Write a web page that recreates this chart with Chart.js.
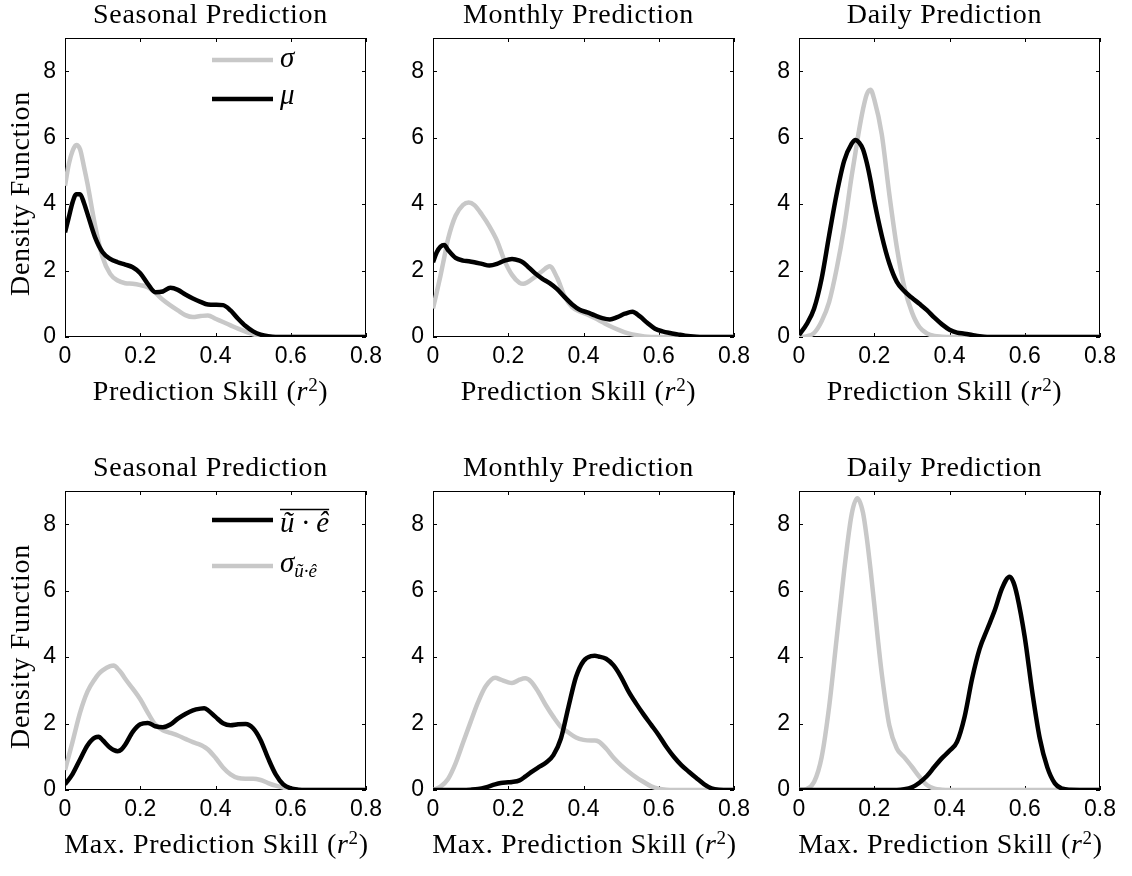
<!DOCTYPE html>
<html>
<head>
<meta charset="utf-8">
<title>Prediction skill densities</title>
<script src="https://cdn.jsdelivr.net/npm/chart.js@4.4.1/dist/chart.umd.min.js"></script>
<style>
  html, body { margin: 0; padding: 0; background: #fff; }
  #figure { position: relative; width: 1132px; height: 876px; overflow: hidden; }
  #figure canvas { position: absolute; }
</style>
</head>
<body>
<div id="figure"></div>
<script>
// Axis ticks shared by all six panels
const skillTicks = [0, 0.2, 0.4, 0.6, 0.8];
const densityTicks = [0, 2, 4, 6, 8];

// Top row: density of sigma and mu of the prediction skill
const seasonalSkill = [0, 0.01, 0.02, 0.03, 0.04, 0.05, 0.06, 0.08, 0.10, 0.12, 0.14, 0.16, 0.18, 0.20, 0.22, 0.24, 0.26, 0.28, 0.30, 0.32, 0.34, 0.36, 0.38, 0.40, 0.42, 0.44, 0.46, 0.48, 0.50, 0.52, 0.54, 0.56, 0.60, 0.70, 0.80];
const seasonalSigma = [4.55, 5.2, 5.6, 5.78, 5.65, 5.15, 4.6, 3.35, 2.4, 1.9, 1.7, 1.62, 1.6, 1.56, 1.5, 1.33, 1.12, 0.95, 0.8, 0.66, 0.6, 0.63, 0.65, 0.55, 0.45, 0.35, 0.25, 0.16, 0.08, 0.03, 0.01, 0, 0, 0, 0];
const seasonalMu = [3.15, 3.6, 4.05, 4.3, 4.3, 4.05, 3.7, 3.0, 2.55, 2.35, 2.25, 2.18, 2.1, 1.92, 1.6, 1.35, 1.37, 1.48, 1.42, 1.28, 1.16, 1.06, 0.98, 0.97, 0.96, 0.8, 0.55, 0.33, 0.17, 0.07, 0.02, 0, 0, 0, 0];

const monthlySkill = [0, 0.01, 0.02, 0.03, 0.04, 0.06, 0.08, 0.095, 0.11, 0.13, 0.15, 0.17, 0.19, 0.21, 0.23, 0.24, 0.25, 0.27, 0.29, 0.31, 0.33, 0.35, 0.37, 0.39, 0.41, 0.43, 0.45, 0.47, 0.49, 0.51, 0.53, 0.55, 0.57, 0.59, 0.61, 0.63, 0.65, 0.67, 0.70, 0.75, 0.80];
const monthlySigma = [0.86, 1.35, 1.85, 2.4, 2.95, 3.65, 3.98, 4.05, 3.97, 3.68, 3.33, 2.9, 2.3, 1.87, 1.63, 1.6, 1.64, 1.8, 1.98, 2.13, 1.78, 1.22, 0.9, 0.77, 0.68, 0.57, 0.45, 0.33, 0.23, 0.14, 0.08, 0.04, 0.01, 0, 0, 0, 0, 0, 0, 0, 0];
const monthlyMu = [2.25, 2.55, 2.72, 2.77, 2.62, 2.38, 2.3, 2.28, 2.25, 2.2, 2.15, 2.2, 2.3, 2.35, 2.3, 2.24, 2.14, 1.93, 1.76, 1.62, 1.44, 1.2, 0.98, 0.82, 0.74, 0.65, 0.57, 0.53, 0.6, 0.7, 0.76, 0.62, 0.42, 0.25, 0.17, 0.12, 0.08, 0.04, 0.01, 0, 0];

const dailySkill = [0, 0.02, 0.04, 0.06, 0.08, 0.10, 0.12, 0.14, 0.15, 0.16, 0.17, 0.18, 0.19, 0.20, 0.22, 0.24, 0.26, 0.28, 0.30, 0.32, 0.34, 0.36, 0.38, 0.40, 0.42, 0.44, 0.46, 0.48, 0.50, 0.55, 0.60, 0.70, 0.80];
const dailySigma = [0, 0.02, 0.12, 0.47, 1.05, 2.05, 3.3, 4.85, 5.55, 6.25, 6.85, 7.3, 7.44, 7.15, 6.1, 4.3, 2.7, 1.5, 0.75, 0.3, 0.11, 0.03, 0.01, 0, 0, 0, 0, 0, 0, 0, 0, 0, 0];
const dailyMu = [0.06, 0.38, 0.85, 1.75, 3.05, 4.3, 5.3, 5.82, 5.93, 5.85, 5.65, 5.25, 4.72, 4.1, 3.05, 2.22, 1.66, 1.38, 1.18, 1.0, 0.81, 0.58, 0.38, 0.22, 0.13, 0.1, 0.06, 0.02, 0, 0, 0, 0, 0];

// Bottom row: density of the maximum prediction skill
const seasonalMaxSkill = [0, 0.02, 0.04, 0.06, 0.08, 0.09, 0.10, 0.12, 0.13, 0.14, 0.15, 0.16, 0.18, 0.20, 0.22, 0.24, 0.26, 0.28, 0.30, 0.32, 0.34, 0.36, 0.37, 0.38, 0.40, 0.42, 0.44, 0.46, 0.48, 0.50, 0.52, 0.54, 0.56, 0.58, 0.60, 0.62, 0.64, 0.70, 0.80];
const seasonalMaxMean = [0.17, 0.48, 0.92, 1.35, 1.58, 1.6, 1.5, 1.27, 1.2, 1.17, 1.22, 1.36, 1.75, 1.98, 2.02, 1.92, 1.89, 1.97, 2.15, 2.29, 2.4, 2.45, 2.46, 2.4, 2.2, 2.01, 1.95, 1.98, 1.99, 1.86, 1.5, 0.95, 0.47, 0.17, 0.05, 0.01, 0, 0, 0];
const seasonalMaxSigma = [0.6, 1.45, 2.33, 2.97, 3.35, 3.5, 3.6, 3.73, 3.75, 3.65, 3.52, 3.35, 3.05, 2.73, 2.33, 1.97, 1.8, 1.72, 1.64, 1.54, 1.44, 1.36, 1.3, 1.22, 0.97, 0.68, 0.47, 0.36, 0.34, 0.34, 0.3, 0.21, 0.13, 0.07, 0.03, 0.01, 0, 0, 0];

const monthlyMaxSkill = [0, 0.02, 0.04, 0.06, 0.08, 0.10, 0.12, 0.14, 0.165, 0.18, 0.20, 0.21, 0.23, 0.245, 0.26, 0.28, 0.30, 0.32, 0.34, 0.36, 0.38, 0.40, 0.42, 0.43, 0.44, 0.46, 0.48, 0.50, 0.52, 0.54, 0.56, 0.58, 0.60, 0.62, 0.64, 0.66, 0.68, 0.70, 0.72, 0.74, 0.76, 0.80];
const monthlyMaxMean = [0, 0, 0, 0, 0, 0.01, 0.03, 0.08, 0.17, 0.21, 0.23, 0.24, 0.29, 0.4, 0.53, 0.68, 0.82, 1.05, 1.55, 2.5, 3.4, 3.88, 4.03, 4.04, 4.02, 3.95, 3.75, 3.4, 2.96, 2.6, 2.27, 1.96, 1.65, 1.3, 1.0, 0.75, 0.55, 0.36, 0.18, 0.05, 0.01, 0];
const monthlyMaxSigma = [0, 0.1, 0.33, 0.8, 1.43, 2.05, 2.65, 3.12, 3.38, 3.32, 3.24, 3.22, 3.32, 3.36, 3.27, 2.95, 2.55, 2.2, 1.9, 1.73, 1.58, 1.51, 1.49, 1.49, 1.46, 1.25, 0.97, 0.74, 0.55, 0.38, 0.24, 0.11, 0.04, 0.01, 0, 0, 0, 0, 0, 0, 0, 0];

const dailyMaxSkill = [0, 0.02, 0.04, 0.06, 0.08, 0.10, 0.12, 0.14, 0.155, 0.17, 0.18, 0.19, 0.20, 0.21, 0.22, 0.24, 0.26, 0.28, 0.30, 0.32, 0.34, 0.36, 0.38, 0.40, 0.42, 0.44, 0.46, 0.48, 0.50, 0.52, 0.54, 0.56, 0.57, 0.58, 0.60, 0.62, 0.64, 0.66, 0.68, 0.70, 0.72, 0.80];
const dailyMaxMean = [0, 0, 0, 0, 0, 0, 0, 0, 0, 0, 0, 0, 0, 0, 0, 0, 0, 0.02, 0.08, 0.22, 0.42, 0.7, 0.96, 1.18, 1.45, 2.2, 3.35, 4.25, 4.83, 5.4, 6.08, 6.42, 6.25, 5.84, 4.6, 2.95, 1.55, 0.68, 0.2, 0.04, 0.01, 0];
const dailyMaxSigma = [0, 0.03, 0.24, 0.98, 2.5, 4.55, 6.6, 8.3, 8.78, 8.35, 7.6, 6.65, 5.6, 4.5, 3.5, 1.95, 1.25, 0.98, 0.7, 0.4, 0.15, 0.04, 0.01, 0, 0, 0, 0, 0, 0, 0, 0, 0, 0, 0, 0, 0, 0, 0, 0, 0, 0, 0];

const GREY = '#c8c8c8';
const BLACK = '#000000';
const SERIF = '"Liberation Serif", "Times New Roman", serif';
const SANS = '"Liberation Sans", Arial, sans-serif';

Chart.defaults.color = '#000';

// Draw a run of text pieces with their own fonts and vertical offsets
function drawRich(ctx, parts, x, y, align) {
  let width = 0;
  parts.forEach(p => { ctx.font = p.font; width += ctx.measureText(p.text).width; });
  let cx = align === 'center' ? x - width / 2 : x;
  const start = cx;
  parts.forEach(p => {
    ctx.font = p.font;
    ctx.fillText(p.text, cx, y + (p.dy || 0));
    cx += ctx.measureText(p.text).width;
  });
  return { start, width };
}

function skillLabel(prefix) {
  return [
    { text: prefix + ' (', font: `28px ${SERIF}` },
    { text: 'r', font: `italic 28px ${SERIF}` },
    { text: '2', font: `19px ${SERIF}`, dy: -9 },
    { text: ')', font: `28px ${SERIF}` }
  ];
}

// Frame with inward tick marks on all four sides
const boxAxes = {
  id: 'boxAxes',
  beforeDatasetsDraw(chart) {
    const { ctx, chartArea: a, scales: { x, y } } = chart;
    const len = 4;
    ctx.save();
    ctx.strokeStyle = '#000';
    ctx.lineWidth = 1;
    ctx.strokeRect(Math.round(a.left) + 0.5, Math.round(a.top) + 0.5,
      Math.round(a.width) - 1, Math.round(a.height) - 1);
    ctx.beginPath();
    skillTicks.forEach(v => {
      const px = Math.round(x.getPixelForValue(v)) + 0.5;
      ctx.moveTo(px, a.bottom); ctx.lineTo(px, a.bottom - len);
      ctx.moveTo(px, a.top); ctx.lineTo(px, a.top + len);
    });
    densityTicks.forEach(v => {
      const py = Math.round(y.getPixelForValue(v)) + 0.5;
      ctx.moveTo(a.left, py); ctx.lineTo(a.left + len, py);
      ctx.moveTo(a.right, py); ctx.lineTo(a.right - len, py);
    });
    ctx.stroke();
    ctx.restore();
  }
};

// Titles, axis labels and the hand-placed legend of a panel
function makePanelText(panel) {
  return {
    id: 'panelText',
    afterDraw(chart) {
      const { ctx, chartArea: a } = chart;
      const cx = (a.left + a.right) / 2;
      ctx.save();
      ctx.fillStyle = '#000';
      ctx.textAlign = 'left';
      ctx.textBaseline = 'alphabetic';
      ctx.letterSpacing = '0.7px';
      drawRich(ctx, [{ text: panel.title, font: `28px ${SERIF}` }], cx - 5, a.top - 15, 'center');
      drawRich(ctx, skillLabel(panel.xLabel), cx + panel.xShift, a.bottom + 63, 'center');
      if (panel.yLabel) {
        ctx.save();
        ctx.translate(29, (a.top + a.bottom) / 2 + 6);
        ctx.rotate(-Math.PI / 2);
        drawRich(ctx, [{ text: panel.yLabel, font: `28px ${SERIF}` }], 0, 0, 'center');
        ctx.restore();
      }
      ctx.letterSpacing = '0px';
      (panel.legend || []).forEach(item => {
        const ly = a.top + item.dy;
        ctx.strokeStyle = item.color;
        ctx.lineWidth = 4.5;
        ctx.beginPath();
        ctx.moveTo(a.left + 147, ly);
        ctx.lineTo(a.left + 208, ly);
        ctx.stroke();
        const box = drawRich(ctx, item.parts, a.left + 215, ly + item.base, 'left');
        if (item.overline) {
          ctx.strokeStyle = '#000';
          ctx.lineWidth = 1.5;
          ctx.beginPath();
          ctx.moveTo(box.start, ly - 10.5);
          ctx.lineTo(box.start + box.width, ly - 10.5);
          ctx.stroke();
        }
      });
      ctx.restore();
    }
  };
}

const mathFont = `italic 29px ${SERIF}`;
const subFont = `italic 19px ${SERIF}`;

const panels = [
  { col: 0, row: 0, title: 'Seasonal Prediction', xLabel: 'Prediction Skill', xShift: -5, yLabel: 'Density Function',
    skill: seasonalSkill, grey: seasonalSigma, black: seasonalMu,
    legend: [
      { color: GREY, dy: 22, base: 7, parts: [{ text: 'σ', font: mathFont }] },
      { color: BLACK, dy: 61, base: 5, parts: [{ text: 'μ', font: mathFont }] }
    ] },
  { col: 1, row: 0, title: 'Monthly Prediction', xLabel: 'Prediction Skill', xShift: -5,
    skill: monthlySkill, grey: monthlySigma, black: monthlyMu },
  { col: 2, row: 0, title: 'Daily Prediction', xLabel: 'Prediction Skill', xShift: -5,
    skill: dailySkill, grey: dailySigma, black: dailyMu },
  { col: 0, row: 1, title: 'Seasonal Prediction', xLabel: 'Max. Prediction Skill', xShift: 1, yLabel: 'Density Function',
    skill: seasonalMaxSkill, grey: seasonalMaxSigma, black: seasonalMaxMean,
    legend: [
      { color: BLACK, dy: 29, base: 12, overline: true, parts: [{ text: 'ũ · ê', font: mathFont }] },
      { color: GREY, dy: 75, base: 6, parts: [{ text: 'σ', font: mathFont }, { text: 'ũ·ê', font: subFont, dy: 5 }] }
    ] },
  { col: 1, row: 1, title: 'Monthly Prediction', xLabel: 'Max. Prediction Skill', xShift: 1,
    skill: monthlyMaxSkill, grey: monthlyMaxSigma, black: monthlyMaxMean },
  { col: 2, row: 1, title: 'Daily Prediction', xLabel: 'Max. Prediction Skill', xShift: 1,
    skill: dailyMaxSkill, grey: dailyMaxSigma, black: dailyMaxMean }
];

const colLeft = [0, 368, 734];
const rowTop = [0, 453];
const figure = document.getElementById('figure');

function toPoints(xs, ys) {
  return xs.map((x, i) => ({ x, y: ys[i] }));
}

panels.forEach(panel => {
  const canvas = document.createElement('canvas');
  canvas.width = 390;
  canvas.height = 420;
  canvas.style.left = colLeft[panel.col] + 'px';
  canvas.style.top = rowTop[panel.row] + 'px';
  figure.appendChild(canvas);

  const line = (ys, color, order) => ({
    data: toPoints(panel.skill, ys),
    borderColor: color,
    borderWidth: 4.5,
    pointRadius: 0,
    fill: false,
    cubicInterpolationMode: 'monotone',
    order
  });

  new Chart(canvas, {
    type: 'line',
    data: { datasets: [line(panel.black, BLACK, 0), line(panel.grey, GREY, 1)] },
    options: {
      responsive: false,
      animation: false,
      devicePixelRatio: 1,
      layout: { padding: { left: 0, right: 24, top: 38, bottom: 0 } },
      plugins: { legend: { display: false }, tooltip: { enabled: false }, title: { display: false } },
      scales: {
        x: {
          type: 'linear', min: 0, max: 0.8,
          afterBuildTicks: s => { s.ticks = skillTicks.map(v => ({ value: v })); },
          afterFit: s => { s.height = 83; },
          grid: { display: false, drawTicks: false },
          border: { display: false },
          ticks: {
            padding: 6, maxRotation: 0, autoSkip: false, color: '#000',
            font: { family: SANS, size: 23 },
            callback: v => (v === 0 ? '0' : v.toFixed(1))
          }
        },
        y: {
          type: 'linear', min: 0, max: 9,
          afterBuildTicks: s => { s.ticks = densityTicks.map(v => ({ value: v })); },
          afterFit: s => { s.width = 65; },
          grid: { display: false, drawTicks: false },
          border: { display: false },
          ticks: { padding: 9, color: '#000', font: { family: SANS, size: 23 } }
        }
      }
    },
    plugins: [boxAxes, makePanelText(panel)]
  });
});
</script>
</body>
</html>
